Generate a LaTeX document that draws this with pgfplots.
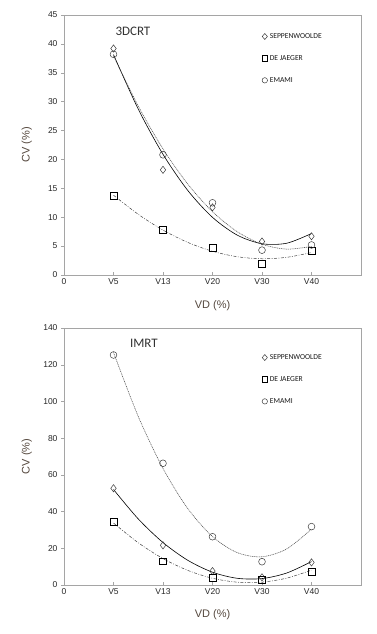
\documentclass[border=0pt]{standalone}
\usepackage{fontspec}
\setmainfont{Liberation Sans}
\newfontfamily\calfont{Carlito}
\usepackage{pgfplots}
\pgfplotsset{compat=1.18}
\definecolor{lab}{RGB}{85,72,62}
\definecolor{frame}{RGB}{165,165,165}
\definecolor{mk}{RGB}{60,60,60}
\definecolor{cv}{RGB}{50,50,50}

\pgfplotsset{
 mystyle/.style={
  scale only axis, width=297pt, xmin=0, xmax=6, ymin=0,
  xtick={0,1,2,3,4,5}, xticklabels={0,V5,V13,V20,V30,V40},
  axis line style={frame}, tick style={frame, thin},
  major tick length=3pt,
  xtick align=inside, ytick align=outside,
  xtick pos=bottom, ytick pos=left,
  ticklabel style={font=\fontsize{8.5}{10}\selectfont, text=black!85},
  /pgf/number format/assume math mode=true,
  xlabel={VD (\%)}, ylabel={CV (\%)},
  label style={font=\fontsize{11}{13}\selectfont, text=lab},
  legend cell align=left,
  legend style={draw=none, fill=none, font=\calfont\fontsize{7.6}{9}\selectfont, text=black!90,
     nodes={inner sep=1pt}, anchor=north west},
 },
 sw/.style={only marks, mark=diamond, mark size=3.6pt, mark options={draw=mk, fill=none, line width=0.5pt},
   legend image code/.code={\draw[mk, line width=0.5pt] (0,3pt)--(2.6pt,0)--(0,-3pt)--(-2.6pt,0)--cycle; \path (3.8pt,0);}},
 dj/.style={only marks, mark=square, mark size=3.4pt, mark options={draw=black, fill=none, line width=0.5pt},
   legend image code/.code={\draw[black, line width=0.55pt] (-2.8pt,-2.8pt) rectangle (2.8pt,2.8pt); \path (3.8pt,0);}},
 em/.style={only marks, mark=o, mark size=3.4pt, mark options={draw=mk, fill=none, line width=0.5pt},
   legend image code/.code={\draw[mk, line width=0.5pt] (0,0) circle (2.7pt); \path (3.8pt,0);}},
 swl/.style={no marks, smooth, black, line width=0.6pt},
 djl/.style={no marks, smooth, black!75, line width=0.5pt, dash pattern=on 3pt off 1.5pt on 0.8pt off 1.5pt},
 eml/.style={no marks, smooth, black!70, line width=0.55pt, dash pattern=on 1pt off 0.8pt},
}

\begin{document}
\begin{tikzpicture}[x=1pt,y=1pt]
\useasboundingbox (0,0) rectangle (376,634);

% ---------- 3DCRT ----------
\begin{axis}[mystyle, at={(64pt,359pt)}, anchor=south west,
  height=260pt, ymax=45, ytick={0,5,...,45},
  xlabel style={at={(axis description cs:0.5,-0.118)}, anchor=center},
  ylabel style={at={(axis description cs:-0.125,0.5)}, anchor=center},
  legend style={at={(axis description cs:0.655,0.942)}, row sep=13.5pt}]
\addplot[swl, forget plot] coordinates {(1,38.14) (1.5,28.72) (2,20.89) (2.5,14.64) (3,9.98) (3.5,6.90) (4,5.41) (4.5,5.50) (5,7.18)};
\addplot[eml, forget plot] coordinates {(1,37.94) (1.5,29.23) (2,21.83) (2.5,15.74) (3,10.96) (3.5,7.49) (4,5.33) (4.5,4.48) (5,4.94)};
\addplot[djl, forget plot] coordinates {(1,13.81) (1.5,10.50) (2,7.77) (2.5,5.64) (3,4.11) (3.5,3.16) (4,2.81) (4.5,3.06) (5,3.89)};
\addplot[sw] coordinates {(1,39.2) (2,18.2) (3,11.7) (4,5.8) (5,6.7)};
\addlegendentry{SEPPENWOOLDE}
\addplot[dj] coordinates {(1,13.7) (2,7.8) (3,4.7) (4,2.0) (5,4.2)};
\addlegendentry{DE JAEGER}
\addplot[em] coordinates {(1,38.2) (2,20.8) (3,12.5) (4,4.3) (5,5.2)};
\addlegendentry{EMAMI}
\node[font=\calfont\fontsize{13}{15}\selectfont, text=cv] at (rel axis cs:0.232,0.938) {3DCRT};
\end{axis}

% ---------- IMRT ----------
\begin{axis}[mystyle, at={(64pt,49pt)}, anchor=south west,
  height=257pt, ymax=140, ytick={0,20,...,140},
  xlabel style={at={(axis description cs:0.5,-0.117)}, anchor=center},
  ylabel style={at={(axis description cs:-0.125,0.5)}, anchor=center},
  legend style={at={(axis description cs:0.655,0.91)}, row sep=13.5pt}]
\addplot[swl, forget plot] coordinates {(1,52.03) (1.5,36.00) (2,23.14) (2.5,13.47) (3,6.97) (3.5,3.65) (4,3.50) (4.5,6.54) (5,12.75)};
\addplot[eml, forget plot] coordinates {(1,126.69) (1.5,91.83) (2,63.50) (2.5,41.69) (3,26.39) (3.5,17.63) (4,15.38) (4.5,19.65) (5,30.45)};
\addplot[djl, forget plot] coordinates {(1,33.77) (1.5,23.01) (2,14.41) (2.5,7.96) (3,3.67) (3.5,1.54) (4,1.57) (4.5,3.75) (5,8.09)};
\addplot[sw] coordinates {(1,52.7) (2,21.6) (3,7.6) (4,4.2) (5,12.3)};
\addlegendentry{SEPPENWOOLDE}
\addplot[dj] coordinates {(1,34.5) (2,12.9) (3,3.8) (4,2.9) (5,7.4)};
\addlegendentry{DE JAEGER}
\addplot[em] coordinates {(1,125.3) (2,66.3) (3,26.3) (4,12.7) (5,31.8)};
\addlegendentry{EMAMI}
\node[font=\calfont\fontsize{13}{15}\selectfont, text=cv] at (rel axis cs:0.269,0.942) {IMRT};
\end{axis}
\end{tikzpicture}
\end{document}
